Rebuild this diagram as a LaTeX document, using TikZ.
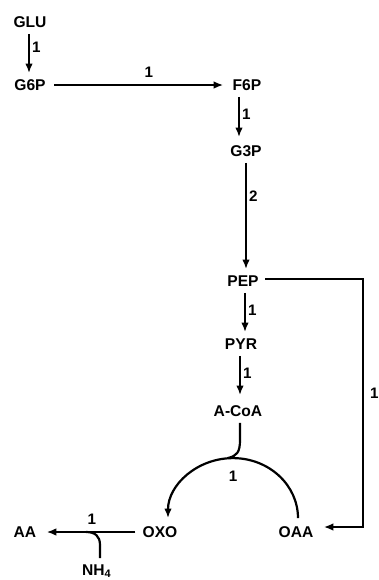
\documentclass[tikz,border=0pt]{standalone}
\usepackage{fontspec}
\setmainfont{Liberation Sans}
\usetikzlibrary{arrows.meta,calc}
\begin{document}
\begin{tikzpicture}[x=0.5pt,y=-0.5pt,
  met/.style={inner sep=3pt,font=\fontsize{7.8}{9}\selectfont\bfseries,text height=5.5pt,text depth=0pt},
  lbl/.style={inner sep=1pt,font=\fontsize{7.6}{9}\selectfont\bfseries},
  arr/.style={line width=1.1pt,-{Latex[length=4.8pt,width=3.8pt]}},
  ln/.style={line width=1.1pt}]
\useasboundingbox (0,0) rectangle (379,580);
\node[met] (GLU) at (30,22) {GLU};
\node[met] (G6P) at (30,85) {G6P};
\node[met] (F6P) at (247,85) {F6P};
\node[met] (G3P) at (246,151) {G3P};
\node[met] (PEP) at (243,281) {PEP};
\node[met] (PYR) at (241,344) {PYR};
\node[met] (ACoA) at (238,411) {A-CoA};
\node[met] (OXO) at (160,532) {OXO};
\node[met] (OAA) at (296,532) {OAA};
\node[met] (AA) at (25,532) {AA};
\node[met] (NH4) at (97,570) {NH$_{\mathbf 4}$};

\draw[arr] ($(GLU.south)+(-1,0)$) -- node[lbl,right,pos=0.35] {1} ($(G6P.north)+(-1,0)$);
\draw[arr] ($(G6P.east)+(2,0)$) -- node[lbl,above=2pt,pos=0.56] {1} ($(F6P.west)+(-3,0)$);
\draw[arr] ($(F6P.south)+(-8,0)$) -- node[lbl,right,pos=0.42] {1} ($(G3P.north)+(-7,-2)$);
\draw[arr] ($(G3P.south)+(0,0)$) -- node[lbl,right,pos=0.31] {2} ($(PEP.north)+(3,0)$);
\draw[arr] ($(PEP.south)+(2,0)$) -- node[lbl,right,pos=0.44] {1} ($(PYR.north)+(4,0)$);
\draw[arr] ($(PYR.south)+(-1,0)$) -- node[lbl,right,pos=0.44] {1} ($(ACoA.north)+(2,-4)$);
\draw[arr] ($(PEP.east)+(0,-2)$) -- (363,279) -- node[lbl,right=2pt,pos=0.46] {1} (363,527) -- ($(OAA.east)+(4,-5)$);
\draw[arr] ($(OAA.north)+(2,-2)$) arc[start angle=0,end angle=180,x radius=32.5pt,y radius=30pt]
  node[lbl,pos=0.5,below=5pt] {1};
\draw[ln] ($(ACoA.south)+(2,0)$) -- (240,440) .. controls (240,452) and (237,456) .. (228,458);
\draw[arr] ($(OXO.west)+(-1,0)$) -- node[lbl,above=2pt,pos=0.49] {1} ($(AA.east)+(4,0)$);
\draw[ln] ($(NH4.north)+(3,0)$) -- (100,545) .. controls (100,536) and (95,532) .. (86,532);
\end{tikzpicture}
\end{document}
